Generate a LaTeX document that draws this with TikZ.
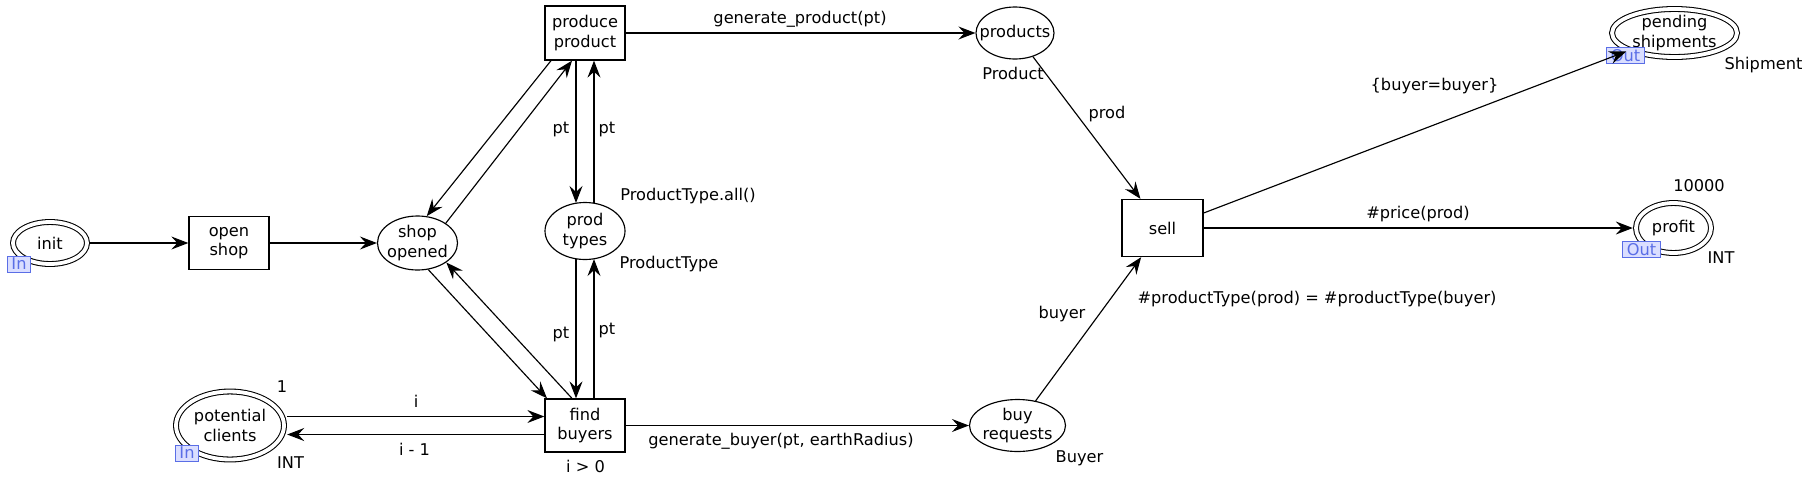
\documentclass[tikz,border=0pt]{standalone}
\usepackage{fontspec}
\setmainfont{DejaVu Sans}
\usetikzlibrary{shapes.geometric,arrows.meta}
\definecolor{portblue}{RGB}{90,110,230}
\definecolor{portfill}{RGB}{218,222,255}
\begin{document}
\begin{tikzpicture}[x=1pt,y=-1pt,
  every node/.style={font=\fontsize{16.2}{19.5}\selectfont},
  trans/.style={draw, line width=1.3pt, rectangle, inner sep=0pt, align=center},
  place/.style={draw, line width=1.15pt, ellipse, inner sep=-12pt, align=center},
  dplace/.style={draw, line width=1.05pt, double, double distance=3.8pt, ellipse, inner sep=-12pt, outer sep=3.2pt, align=center},
  port/.style={draw=portblue, fill=portfill, text=portblue, line width=1pt, inner xsep=4pt, inner ysep=0pt, minimum height=16pt},
  arc/.style={draw, line width=1.15pt, -{Stealth[length=17pt,width=13pt,inset=6pt]}},
  lbl/.style={inner sep=0pt, text height=11.5pt, text depth=0pt}
]
\useasboundingbox (0,0) rectangle (1811,483);

% places and transitions
\node[dplace, minimum width=74pt, minimum height=42pt] (init) at (50,243) {init};
\node[trans, minimum width=80pt, minimum height=53pt] (os) at (229,243) {open\\shop};
\node[place, minimum width=80pt, minimum height=54pt] (so) at (417.5,243) {shop\\opened};
\node[trans, minimum width=80pt, minimum height=54pt] (pp) at (585,33) {produce\\product};
\node[place, minimum width=80pt, minimum height=57pt] (pt) at (585,231) {prod\\types};
\node[trans, minimum width=80pt, minimum height=53pt] (fb) at (585,425.5) {find\\buyers};
\node[dplace, minimum width=108pt, minimum height=68pt] (pc) at (230,425.5) {potential\\clients};
\node[place, minimum width=78pt, minimum height=52pt] (prods) at (1015,33) {products};
\node[place, minimum width=96pt, minimum height=52pt] (br) at (1017.5,425.5) {buy\\requests};
\node[trans, minimum width=81pt, minimum height=57pt] (sell) at (1162.5,228) {sell};
\node[dplace, minimum width=75pt, minimum height=50pt] (profit) at (1673.5,228) {profit};
\node[dplace, minimum width=125pt, minimum height=48pt] (ps) at (1674.5,33) {pending\\shipments};

% ports
\node[port] (initport) at (19,264) {In};
\node[port] (pcport) at (187,453) {In};
\node[port] (profitport) at (1641.5,249.5) {Out};
\node[port] (psport) at (1625.5,55.5) {Out};

% arcs
\draw[arc] (init) -- (os);
\draw[arc] (os) -- (so);
\draw[arc] ([xshift=-34pt]pp.south) -- (so.71);
\draw[arc] (so.35) -- ([xshift=-13pt]pp.south);
\draw[arc] (so.-68) -- ([xshift=-38pt]fb.north);
\draw[arc] ([xshift=-13pt]fb.north) -- (so.-34);
\draw[arc] ([xshift=-9pt]pp.south) -- ([xshift=-9pt,yshift=-1pt]pt.north);
\draw[arc] ([xshift=9pt,yshift=-1pt]pt.north) -- ([xshift=9pt]pp.south);
\draw[arc] ([xshift=-9pt,yshift=1pt]pt.south) -- ([xshift=-9pt]fb.north);
\draw[arc] ([xshift=9pt]fb.north) -- ([xshift=9pt,yshift=1pt]pt.south);
\draw[arc] ([yshift=9pt]pc.east) -- ([yshift=9pt]fb.west);
\draw[arc] ([yshift=-9pt]fb.west) -- ([yshift=-9pt]pc.east);
\draw[arc] (pp) -- (prods);
\draw[arc] (fb) -- (br);
\draw[arc] (prods) -- (sell);
\draw[arc] (br) -- (sell);
\draw[arc] (sell) -- (profit);
\draw[arc] ([yshift=15pt]sell.east) -- (ps);

% labels
\node[lbl] (lgp) at (800,18) {generate\_product(pt)};
\node[lbl] (lgb) at (781,440) {generate\_buyer(pt, earthRadius)};
\node[lbl] (lpt1) at (561,128) {pt};
\node[lbl] (lpt2) at (607,128) {pt};
\node[lbl] (lpt3) at (561,333) {pt};
\node[lbl] (lpt4) at (607,329) {pt};
\node[lbl] (lptall) at (688,195) {ProductType.all()};
\node[lbl] (lptype) at (669,263) {ProductType};
\node[lbl] (lprodt) at (1013,74) {Product};
\node[lbl] (lprod) at (1107,113) {prod};
\node[lbl] (lbb) at (1434.5,85) {\{buyer=buyer\}};
\node[lbl] (lship) at (1763.5,64) {Shipment};
\node[lbl] (l10000) at (1699,186) {10000};
\node[lbl] (lint2) at (1721,258) {INT};
\node[lbl] (lprice) at (1418,213) {\#price(prod)};
\node[lbl] (lguard) at (1317,298) {\#productType(prod) = \#productType(buyer)};
\node[lbl] (lbuyer) at (1062,313) {buyer};
\node[lbl] (lBuyer) at (1079.5,457) {Buyer};
\node[lbl] (li0) at (585.5,467) {i > 0};
\node[lbl] (lone) at (282,387) {1};
\node[lbl] (lint1) at (290.5,463) {INT};
\node[lbl] (li) at (416,402) {i};
\node[lbl] (lim1) at (414.5,450) {i - 1};
\end{tikzpicture}
\end{document}
